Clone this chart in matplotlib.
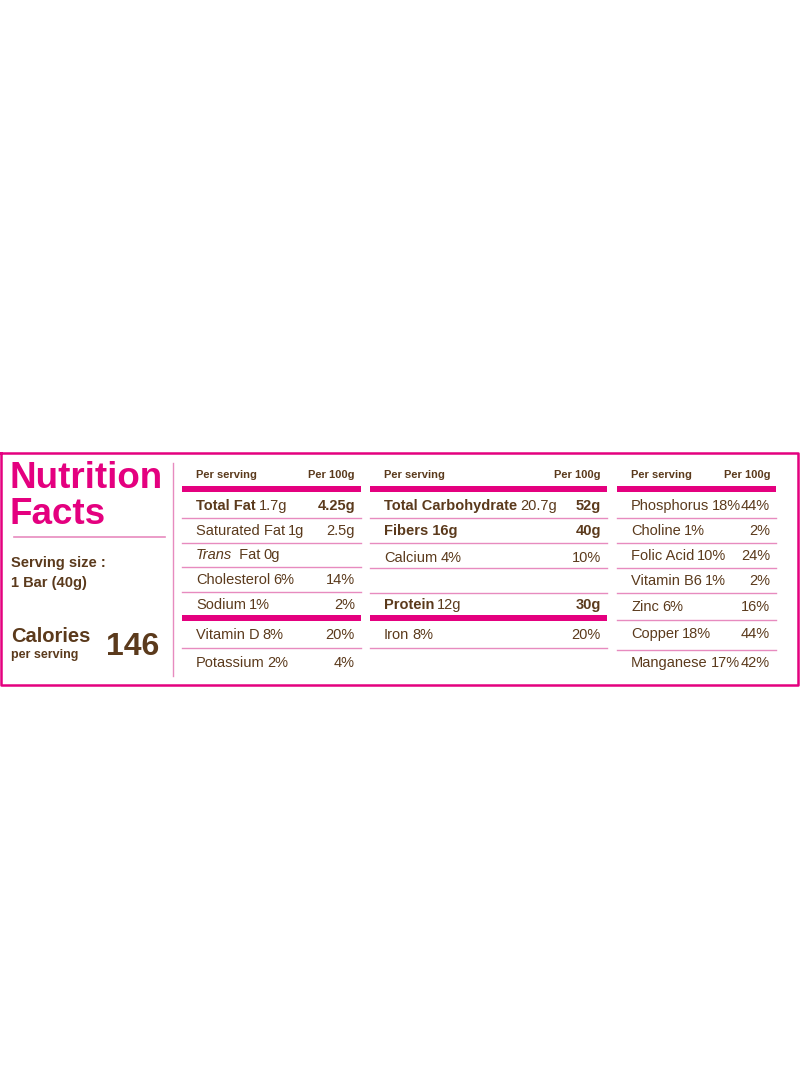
import matplotlib
matplotlib.use("Agg")
import matplotlib.pyplot as plt

PINK = "#e4007f"
LINE = "#e78bbf"
BROWN = "#5b3a1c"
FAM = ["Liberation Sans Narrow", "Liberation Sans", "DejaVu Sans"]

# Column data: (label parts, per-serving amount, per-100g value, bold value)
col1_labels = [[("Total Fat", "bold")], [("Saturated Fat", "normal")], [("Trans", "italic"), (" Fat", "normal")],
               [("Cholesterol", "normal")], [("Sodium", "normal")], [("Vitamin D", "normal")], [("Potassium", "normal")]]
col1_serving = ["1.7g", "1g", "0g", "6%", "1%", "8%", "2%"]
col1_per100 = ["4.25g", "2.5g", "", "14%", "2%", "20%", "4%"]
col1_bold = [True, False, False, False, False, False, False]

col2_labels = [[("Total Carbohydrate", "bold")], [("Fibers 16g", "bold")], [("Calcium", "normal")], [],
               [("Protein", "bold")], [("Iron", "normal")]]
col2_serving = ["20.7g", "", "4%", "", "12g", "8%"]
col2_per100 = ["52g", "40g", "10%", "", "30g", "20%"]
col2_bold = [True, True, False, False, True, False]

col3_labels = [[("Phosphorus", "normal")], [("Choline", "normal")], [("Folic Acid", "normal")], [("Vitamin B6", "normal")],
               [("Zinc", "normal")], [("Copper", "normal")], [("Manganese", "normal")]]
col3_serving = ["18%", "1%", "10%", "1%", "6%", "18%", "17%"]
col3_per100 = ["44%", "2%", "24%", "2%", "16%", "44%", "42%"]
col3_bold = [False] * 7

calories = "146"
serving_size = "1 Bar (40g)"

W, H = 800, 1091
FS = 10.5
fig = plt.figure(figsize=(W / 100, H / 100), dpi=100)
ax = fig.add_axes([0, 0, 1, 1])
ax.set_xlim(0, W); ax.set_ylim(H, 0); ax.axis("off")
fig.canvas.draw()
rend = fig.canvas.get_renderer()

def parts(x, y, ps, size=FS):
    for txt, st in ps:
        w = "bold" if st == "bold" else "normal"
        s = "italic" if st == "italic" else "normal"
        t = ax.text(x, y, txt, fontsize=size, fontweight=w, fontstyle=s, color=BROWN,
                    family=FAM, va="center", ha="left")
        x += t.get_window_extent(rend).width + 3
    return x

# border
ax.plot([1, 798, 798, 1, 1], [453, 453, 685, 685, 453], color=PINK, lw=1.8)
ax.plot([173, 173], [463, 676], color=LINE, lw=1)
ax.plot([14, 165], [537, 537], color=LINE, lw=1.2)

ax.text(9, 478, "Nutrition", fontsize=26.5, fontweight="heavy", color=PINK, family=FAM[1:], va="center")
ax.text(9, 515, "Facts", fontsize=26.5, fontweight="heavy", color=PINK, family=FAM[1:], va="center")
ax.text(11, 563, "Serving size :", fontsize=10.5, fontweight="bold", color=BROWN, family=FAM[1:], va="center")
ax.text(11, 583, serving_size, fontsize=10.5, fontweight="bold", color=BROWN, family=FAM[1:], va="center")
ax.text(11, 636, "Calories", fontsize=14.5, fontweight="bold", color=BROWN, family=FAM[1:], va="center")
ax.text(11, 655, "per serving", fontsize=9, fontweight="bold", color=BROWN, family=FAM[1:], va="center")
ax.text(106, 647, calories, fontsize=23, fontweight="bold", color=BROWN, family=FAM[1:], va="center")

def column(x0, x1, labels, serving, per100, bold, ys, lines, thick):
    ax.text(x0 + 14, 475, "Per serving", fontsize=8, fontweight="bold", color=BROWN, family=FAM, va="center")
    ax.text(x1 - 6, 475, "Per 100g", fontsize=8, fontweight="bold", color=BROWN, family=FAM, va="center", ha="right")
    ax.fill_between([x0, x1], 486, 492, color=PINK, lw=0)
    for yl in lines:
        ax.plot([x0, x1], [yl, yl], color=LINE, lw=1)
    for yt in thick:
        ax.fill_between([x0, x1], yt - 3, yt + 3, color=PINK, lw=0)
    for lab, sv, pv, b, y in zip(labels, serving, per100, bold, ys):
        if lab:
            x = parts(x0 + 14, y, lab)
            if sv:
                parts(x, y, [(sv, "normal")])
        if pv:
            ax.text(x1 - 6, y, pv, fontsize=FS, fontweight="bold" if b else "normal", color=BROWN,
                    family=FAM, va="center", ha="right")

column(182, 361, col1_labels, col1_serving, col1_per100, col1_bold,
       [506, 531, 555, 580, 605, 635, 663], [518, 543, 567, 592, 648], [618])
column(370, 607, col2_labels, col2_serving, col2_per100, col2_bold,
       [506, 531, 558, 583, 605, 635], [518, 543, 568, 593, 648], [618])
column(617, 776, col3_labels, col3_serving, col3_per100, col3_bold,
       [506, 531, 556, 581, 607, 634, 663], [518, 543, 568, 593, 620, 650], [])

fig.savefig("out.png", dpi=100)
